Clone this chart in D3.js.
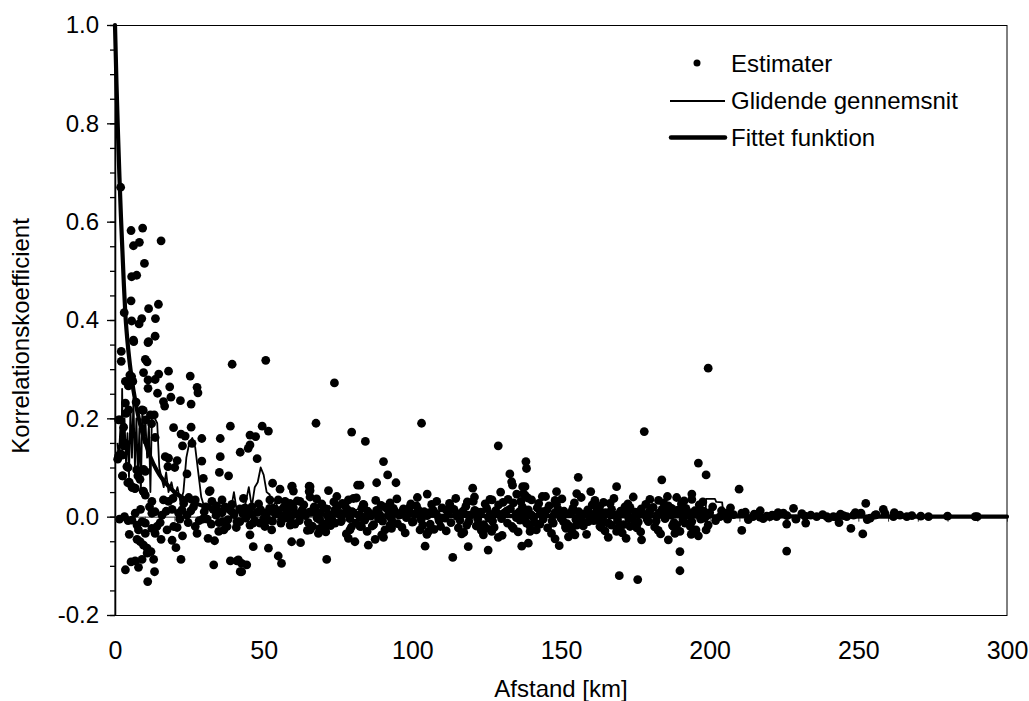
<!DOCTYPE html>
<html><head><meta charset="utf-8">
<script src="https://cdn.jsdelivr.net/npm/d3@7/dist/d3.min.js"></script>
<style>
html,body{margin:0;padding:0;background:#fff;}
svg text{font-family:"Liberation Sans",Arial,sans-serif;fill:#000;}
</style></head>
<body><svg id="chart" width="1029" height="701"></svg>
<script>
// ---- data ----
const xTickValues = [0,50,100,150,200,250,300];
const yTickValues = [-0.2,0.0,0.2,0.4,0.6,0.8,1.0];
const seriesNames = ["Estimater","Glidende gennemsnit","Fittet funktion"];
const xTitle = "Afstand [km]";
const yTitle = "Korrelationskoefficient";

// Estimater: [afstand km, korrelation]
const estimater = [
[1.9,0.67],[5.4,0.582],[9.3,0.587],[6.2,0.551],[8.2,0.558],[15.5,0.561],
[9.9,0.515],[5.6,0.488],[7.3,0.491],[5.4,0.439],[11.3,0.423],[14.6,0.432],[13.6,0.403],[9.0,0.403],[8.1,0.392],[5.6,0.398],[3.1,0.415],
[13.5,0.367],[6.3,0.356],[11.1,0.354],[6.2,0.359],[11.3,0.356],
[2.1,0.336],[2.1,0.316],[10.2,0.32],[10.8,0.315],[39.4,0.31],[50.7,0.318],
[9.6,0.293],[18.0,0.296],[14.7,0.29],[13.5,0.279],[11.1,0.278],[25.3,0.286],[3.5,0.275],[6.0,0.275],[5.0,0.288],[5.6,0.285],[73.8,0.272],
[11.1,0.261],[18.4,0.264],[27.6,0.263],[27.9,0.252],[14.3,0.251],[18.8,0.243],[22.0,0.236],[16.3,0.234],[16.7,0.225],[25.6,0.229],[7.1,0.233],[4.5,0.266],[3.5,0.231],
[1.7,0.197],[1.2,0.197],[2.9,0.182],[9.5,0.216],[10.3,0.197],[11.9,0.207],[13.2,0.207],[3.7,0.21],[4.6,0.217],[9.1,0.217],[12.3,0.189],
[19.7,0.181],[25.6,0.182],[22.2,0.168],[23.6,0.164],[29.2,0.159],[22.7,0.144],[25.9,0.149],[38.8,0.184],[35.4,0.159],[35.4,0.122],[42.1,0.131],[29.2,0.113],[20.9,0.114],[20.1,0.1],[16.9,0.122],[18.0,0.119],[17.8,0.102],[13.5,0.161],
[67.6,0.19],[103.1,0.19],[79.6,0.172],[84.2,0.153],[49.5,0.184],[51.6,0.174],[45.4,0.166],[47.3,0.163],[45.4,0.146],[44.8,0.139],[47.8,0.118],
[2.8,0.149],[3.5,0.149],[2.9,0.144],[1.8,0.128],[1.2,0.123],[2.4,0.125],[0.9,0.117],
[4.0,0.102],[4.4,0.1],[2.6,0.083],[2.5,0.083],[7.7,0.083],[9.6,0.096],[10.2,0.092],[7.3,0.095],[8.4,0.076],[35.1,0.09],[38.2,0.083],[24.2,0.087],[29.7,0.078],[4.8,0.07],[4.3,0.069],[5.8,0.059],[6.7,0.057],[5.7,0.061],[6.8,0.058],[9.5,0.052],[9.6,0.051],[10.2,0.044],[12.4,0.031],
[32.0,0.053],[31.7,0.051],[59.4,0.061],[65.6,0.061],[65.6,0.053],[71.8,0.053],[53,0.068],[55.5,0.056],[59.6,0.062],[60,0.052],[65.3,0.062],[65.3,0.051],[81.6,0.064],[74.6,0.041],[78.5,0.034],[80.2,0.037],[52.1,0.034],[54.9,0.034],[57.2,0.031],[58.9,0.027],[62.2,0.031],[43.2,0.037],
[16.3,0.034],[18,0.031],[19.5,0.037],[24.8,0.039],[27,0.034],[23.1,0.027],[32.6,0.031],[36,0.034],
[6.8,0.007],[5.7,-0.007],[4.4,-0.008],[9.1,-0.01],[10.2,-0.013],[12.4,0.007],[13.5,0.01],[15.8,0.003],[19.2,0.015],[21.4,0.007],[22.5,0.014],[24.2,0.003],
[7.4,-0.017],[7.9,-0.027],[4.8,-0.036],[10.2,-0.034],[12.4,-0.024],[14.1,-0.02],[15.2,-0.012],[17.5,-0.027],[19.7,-0.02],[20.9,-0.022],[13.5,-0.034],[15.5,-0.046],[7.4,-0.046],[8.5,-0.051],[9.6,-0.058],[10.8,-0.064],[19.2,-0.048],[22.7,-0.039],[20.5,-0.063],[12.1,-0.071],[10.8,-0.074],[13.0,-0.087],[5.4,-0.092],[6.8,-0.09],[9.1,-0.087],[7.9,-0.103],[3.5,-0.108],[13.3,-0.112],[11.0,-0.132],[22.2,-0.087],[27,-0.02],[27.6,-0.034],[29.5,-0.005],[31.3,-0.044],[33.5,-0.049],[34.9,-0.03],[36.6,-0.027],[37.7,-0.02],[33.2,-0.098],[38.8,-0.09],[41,-0.09],[42.1,-0.112],
[42,-0.01],[45.4,-0.017],[46.5,-0.013],[48.8,-0.013],[51.6,-0.007],[52.7,-0.027],[45.4,-0.037],[57.2,-0.003],[58.9,-0.017],[65.6,-0.027],[66.1,-0.02],[68.4,-0.034],[69,-0.024],[70.6,-0.017],[71.7,-0.01],[74,-0.013],[76.2,-0.007],[78.5,-0.044],[80.7,-0.051],[79,-0.027],[82.4,-0.02],[59.4,-0.051],[62.4,-0.053],[46.5,-0.061],[51.6,-0.064],[54.9,-0.08],[56,-0.095],[71.2,-0.087],[41.5,-0.088],[42.6,-0.095],[44.3,-0.098],[42.6,-0.112],[65.6,0.04],[67.3,0.018],[69.6,0.024],[74,0.014],[77.4,0.022],[79.7,0.01],
[90.3,0.112],[91.7,0.085],[88,0.069],[94.5,0.069],[82.4,0.064],[105,0.046],[120.3,0.058],[120.5,0.031],[126.1,0.035],[129.7,0.05],[132.8,0.087],[133.4,0.071],[133.7,0.064],[135.1,0.046],[137.3,0.047],[137.9,0.061],[138.2,0.112],[138.4,0.098],[83.7,0.024],[112.7,0.022],[99.2,0.02],[101.4,0.022],[93.6,0.017],[82.9,-0.02],[92.5,-0.017],[93,-0.024],[89.7,-0.037],[90.3,-0.042],[87.5,-0.046],[85.2,-0.058],[100.3,-0.01],[102.6,-0.027],[105.4,-0.03],[107.3,-0.026],[104.3,-0.06],[113.6,-0.083],[116.6,-0.035],[118.3,-0.017],[118.8,-0.061],[122.8,-0.02],[123.9,-0.037],[125.5,-0.068],[125,-0.024],[126.7,-0.03],[128.9,-0.042],[134,-0.024],[136.8,-0.06],[139,-0.054],[136.2,-0.007],[138.4,-0.013],[128.9,0.144],
[137.1,0.061],[137.9,0.044],[140.1,0.034],[143.7,0.041],[148.5,0.051],[148,0.033],[155.8,0.08],[155.3,0.047],[160,0.051],[164.3,0.029],[168.7,0.061],[178,0.173],[183.9,0.075],[182.8,0.033],[188.9,0.039],[171.5,0.02],[173.2,0.019],[149.4,-0.059],[148,-0.045],[152.5,-0.041],[154.7,-0.037],[165.9,-0.042],[171.9,-0.044],[177.1,-0.047],[169.6,-0.12],[175.8,-0.128],[183.5,-0.035],[186.1,-0.047],[190,-0.071],[190,-0.11],[142.9,-0.015],[147.4,-0.013],[139.6,-0.03],[168.7,-0.03],[173.2,-0.02],[151.7,-0.024],[153,-0.02],[156.4,-0.007],[159.2,-0.01],[162.6,0.02],[164.3,-0.012],[194,0.046],[194,0.035],[186.1,0.022],[187.2,0.017],[194.5,-0.027],[155.3,-0.017],[150.8,-0.01],[151.9,-0.02],[162,-0.007],[163.1,-0.02],[167,-0.017],[174.9,-0.013],[179.4,-0.01],[188.9,-0.017],[191.7,-0.013],[196.2,0.109],[198.8,0.085],[199.5,0.302],
[209.9,0.056],[228.2,0.017],[252.5,0.027],[258.4,0.015],[262.1,0.008],[250.9,0.007],[224.8,0.007],[210.8,0.007],[205.7,0.007],[196.8,0.015],[186.7,0.017],[190,0.015],[192.3,0.012],[187.8,-0.02],[190,-0.03],[195.4,-0.027],[196.2,-0.039],[198.8,-0.027],[210.8,-0.028],[225.9,-0.015],[225.9,-0.07],[232.3,-0.013],[243.5,-0.012],[247.5,-0.024],[251.5,-0.035],[254,-0.003],[255.6,0.003],[266.3,0],[273.6,0],[289.3,0],[220.3,0],[222.5,0],[236,0],[239.4,0],[241.6,0],[246.1,0],[203.5,0],[214.6,0],[216.9,-0.001],[219.2,0.001],[232.1,0.001],[242.7,-0.001],[248.4,0.003],[261.8,0],
[201,0.02],[202,-0.008],[204,0.012],[206,-0.005],[207,0.018],[208,0.004],[212,0.009],[213,-0.006],[215,0.005],[217,0.012],[218,-0.004],[221,0.003],[223,0.008],[226,0.002],[229,-0.005],[231,0.006],[234,0.003],[238,0.004],[240,-0.003],[244,0.005],[245,0.002],[249,0.008],[253,-0.006],[256,0.004],[259,0.006],[264,0.003],[268,0.002],[271,0.001],[280,0.001],[290,0],
[30,0.01],[31,-0.005],[33,0.015],[34,0.003],[35,-0.012],[36,0.008],[37,0.02],[38,-0.006],[39,0.012],[40,0.004],[41,-0.01],[42,0.016],[43,0.006],[44,-0.003],[45,0.011],[46,0.02],[47,-0.008],[48,0.009],[49,0.014],[50,-0.004],[51,0.007],[52,0.017],[53,-0.009],[54,0.005],[55,0.012],[56,-0.006],[57,0.018],
[25.5,0.012],[28.3,-0.008],[30.5,0.02],[32.4,-0.015],[34.2,0.022],[36.2,-0.01],[39.3,0.025],[40.8,-0.022],[43.7,0.018],[46.2,0.004],[48.3,0.026],[50.4,-0.02],[53.6,0.016],[55.8,-0.013],[57.8,0.004],[24.6,-0.012],[26.4,0.02],[21.8,-0.005],[17.2,0.011],[11.6,0.02],[8.6,0.015],[3.2,0.0],[1.5,-0.005],
[58,0.012],[59,-0.004],[60,0.018],[61,0.005],[62,-0.008],[63,0.014],[64,0.002],[65,-0.012],[66,0.01],[67,0.02],[68,-0.003],[69,0.008],[70,-0.015],[71,0.016],[72,0.004],[73,-0.006],[74,0.012],[75,0.022],[76,-0.01],[77,0.006],[78,0.015],[79,-0.004],[80,0.009],[81,-0.013],[82,0.003],[83,0.017],[84,-0.007],[85,0.011],[86,0.001],[87,-0.016],[88,0.013],[89,0.004],[90,-0.009],[91,0.019],[92,0.002],[93,-0.005],[94,0.012],[95,-0.014],[96,0.007],[97,0.016],[98,-0.002],[99,0.009],[100,-0.011],[101,0.005],[102,0.014],[103,-0.006],[104,0.01],[105,0.002],[106,-0.015],[107,0.013],[108,0.006],[109,-0.008],[110,0.018],[111,-0.003],[112,0.008],[113,-0.012],[114,0.015],[115,0.001],[116,-0.007],[117,0.011],[118,0.021],[119,-0.01],[120,0.004],[121,0.013],[122,-0.005],[123,0.009],[124,-0.016],[125,0.017],[126,0.003],[127,-0.009],[128,0.012],[129,0.024],[130,-0.004],[131,0.007],[132,-0.013],[133,0.016],[134,0.028],[135,-0.002],[136,0.01],[137,0.02],[138,-0.008],[139,0.014],[140,0.003],[141,-0.011],[142,0.018],[143,0.006],[144,-0.005],[145,0.012],[146,0.022],[147,-0.009],[148,0.008],[149,0.015],[150,-0.003],[151,0.011],[152,-0.014],[153,0.006],[154,0.017],[155,-0.006],[156,0.01],[157,0.002],[158,-0.012],[159,0.014],[160,0.005],[161,-0.008],[162,0.012],[163,0.021],[164,-0.004],[165,0.008],[166,-0.013],[167,0.015],[168,0.003],[169,-0.007],[170,0.011],[171,-0.016],[172,0.006],[173,0.014],[174,-0.002],[175,0.009],[176,-0.011],[177,0.016],[178,0.004],[179,-0.006],[180,0.013],[181,0.019],[182,-0.009],[183,0.007],[184,0.015],[185,-0.004],[186,0.01],[187,0.003],[188,-0.012],[189,0.013],[190,0.006],[191,-0.007],[192,0.017],[193,0.002],[194,-0.01],[195,0.012],[196,0.004],[197,-0.005],[198,0.011],[199,0.002],[200,0.008],
[60.5,-0.015],[63.5,0.024],[66.5,-0.02],[69.5,0.026],[72.5,-0.018],[76.5,0.027],[79.5,-0.021],[83.5,0.025],[86.5,-0.019],[89.5,0.023],[92.5,0.028],[96.5,-0.022],[99.5,0.026],[103.5,-0.017],[106.5,0.025],[109.5,-0.02],[112.5,0.027],[115.5,-0.023],[118.5,0.03],[121.5,-0.019],[124.5,0.026],[127.5,-0.022],[130.5,0.029],[133.5,-0.02],[136.5,0.031],[139.5,-0.018],[142.5,0.027],[145.5,-0.023],[148.5,0.025],[151.5,-0.021],[154.5,0.028],[157.5,-0.019],[160.5,0.024],[163.5,-0.022],[166.5,0.027],[169.5,-0.02],[172.5,0.026],[175.5,-0.023],[178.5,0.025],[181.5,-0.021],[184.5,0.028],[187.5,-0.018],[190.5,0.026],[193.5,-0.02],[196.5,0.024],[199.5,-0.017],
[61.3,0.032],[64.7,-0.028],[67.8,0.036],[70.9,-0.031],[73.6,0.03],[77.8,-0.035],[81.2,0.038],[84.8,-0.03],[87.7,0.033],[90.8,-0.027],[94.8,0.036],[97.6,-0.033],[101.7,0.039],[104.9,-0.036],[108.2,0.031],[111.4,-0.029],[114.6,0.037],[117.3,-0.032],[120.9,0.04],[123.2,-0.028],[126.8,0.034],[130.2,-0.038],[132.2,0.035],[135.6,-0.031],[138.8,0.038],[141.7,-0.027],[144.8,0.041],[146.8,-0.034],[150.3,0.036],[153.7,-0.03],[156.8,0.039],[158.6,-0.036],[161.4,0.033],[164.8,-0.029],[167.8,0.037],[170.6,-0.033],[174.3,0.04],[176.8,-0.031],[179.9,0.035],[182.7,-0.028],[185.8,0.041],[188.3,-0.034],[191.4,0.032],[193.8,-0.036],[197.7,0.03],
[62.7,0.004],[65.4,0.009],[68.8,-0.006],[71.6,0.001],[75.4,0.005],[78.7,0.011],[82.6,-0.002],[85.7,0.006],[88.6,-0.004],[92.2,0.009],[95.6,0.003],[98.7,0.014],[102.6,0.001],[105.7,0.008],[108.8,-0.002],[111.8,0.012],[115.1,0.006],[118.9,0.003],[121.8,0.009],[125.7,-0.003],[128.7,0.006],[131.7,0.011],[134.8,0.004],[137.7,0.009],[140.8,-0.002],[143.6,0.01],[147.7,0.004],[150.7,0.007],[153.8,0.012],[157.2,0.005],[160.8,-0.002],[163.8,0.008],[166.7,0.003],[169.8,0.006],[172.8,-0.004],[175.8,0.004],[179.6,0.009],[182.4,0.002],[185.2,0.006],[188.7,0.01],[191.7,0.004],[195.7,0.007],[198.3,-0.003]
];

// Glidende gennemsnit: [afstand km, korrelation]
const glidende = [
[0.8,0.15],[1.3,0.12],[1.8,0.18],[2.2,0.14],[2.4,0.26],[2.7,0.14],[3.2,0.2],[3.7,0.11],[4.2,0.17],[4.7,0.08],[5.2,0.22],[5.7,0.12],[6.2,0.24],[6.7,0.1],[7.2,0.2],[7.7,0.08],[8.2,0.18],[8.7,0.05],[9.2,0.22],[9.7,0.15],[10.2,0.2],[10.8,0.12],[11.4,0.19],[11.9,0.05],[12.4,0.2],[13.4,0.2],[14.2,0.19],[14.9,0.1],[15.6,0.08],[16.4,0.06],[17.2,0.09],[18,0.05],[19,0.07],[20,0.04],[21,0.06],[22,0.03],[23,0.05],[24,0.12],[25,0.15],[26,0.16],[27,0.14],[28,0.09],[29,0.04],[30,0.02],[31,0.01],[32,0.025],[33,0.01],[34,0.015],[35,0.005],[36,0.02],[37,0.01],[38,0.025],[39,0.015],[40,0.05],[41,0.01],[42,0.02],[43,0.01],[44,0.03],[45,0.06],[46,0.02],[47,0.06],[48,0.07],[49,0.1],[50,0.085],[51,0.05],[52,0.045],[53,0.02],[54,0.03],[55,0.015],[56,0.025],[57,0.01],
[58,0.02],[60,0.008],[62,0.015],[64,0.005],[66,0.018],[68,0.004],[70,0.012],[72,0.022],[74,0.006],[76,0.014],[78,0.003],[80,0.01],[82,0.016],[84,0.002],[86,0.012],[88,0.006],[90,0.015],[92,0.004],[94,0.011],[96,0.002],[98,0.009],[100,0.013],[102,0.004],[104,0.01],[106,0.001],[108,0.008],[110,0.012],[112,0.003],[114,0.009],[116,-0.002],[118,0.006],[120,0.011],[122,0.002],[124,0.008],[126,0.014],[128,0.004],[130,0.012],[132,0.02],[134,0.01],[136,0.016],[138,0.006],[140,0.012],[142,0.003],[144,0.008],[146,0.014],[148,0.005],[150,0.01],[152,0.002],[154,0.008],[156,0.012],[158,0.003],[160,0.007],[162,0.011],[164,0.001],[166,0.006],[168,-0.004],[170,-0.012],[172,-0.02],[173,-0.005],[174,0.004],[176,0.008],[178,0.01],[180,0.003],[182,0.009],[184,0.005],[186,0.002],[188,0.007],[190,0.004],[192,0.008],[194,0.003],[196,0.006],[198.6,0.004],[198.8,0.036],[201.8,0.036],[202.2,0.03],[204.2,0.029],[204.6,0.004],[206,0.003],[208,0.001],[210,0.002],[215,0.001],[220,0],[230,0.001],[240,0],[250,0.001],[260,0],[280,0],[300,0]
];

// Fittet funktion: [afstand km, korrelation]
const fittet = [
[0,1.0],[0.5,0.88],[1,0.78],[1.5,0.69],[2,0.61],[2.5,0.54],[3,0.47],[3.5,0.41],[4,0.37],[5,0.31],[6,0.265],[7,0.23],[8,0.2],[9,0.175],[10,0.155],[12,0.12],[14,0.095],[16,0.076],[18,0.062],[20,0.05],[24,0.035],[28,0.025],[32,0.018],[40,0.011],[50,0.007],[60,0.005],[80,0.003],[100,0.002],[150,0.001],[200,0.0005],[300,0]
];

// ---- chart ----
const svg = d3.select("#chart");
const L = 115, R = 1007, T = 25, B = 615;
const x = d3.scaleLinear().domain([0,300]).range([L,R]);
const y = d3.scaleLinear().domain([-0.2,1.0]).range([B,T]);
const FS = 24;

// frame
svg.append("rect").attr("x",L).attr("y",T+0.5).attr("width",R-L).attr("height",B-T)
  .attr("fill","none").attr("stroke","#000").attr("stroke-width",1);

// y axis minor ticks
const yMinor = d3.range(-0.2,1.0001,0.05).map(v=>+v.toFixed(2));
svg.append("g").attr("transform",`translate(${L},0)`)
  .call(d3.axisLeft(y).tickValues(yMinor).tickSize(5).tickSizeOuter(0).tickFormat(""))
  .call(g=>g.selectAll("line,path").attr("stroke","#000").attr("stroke-width",1.3));
// y axis major
svg.append("g").attr("transform",`translate(${L},0)`)
  .call(d3.axisLeft(y).tickValues(yTickValues).tickSize(8).tickSizeOuter(0).tickPadding(8)
    .tickFormat(d3.format(".1f")))
  .call(g=>g.selectAll("line,path").attr("stroke","#000").attr("stroke-width",1.3))
  .call(g=>g.selectAll("text").attr("font-size",FS).attr("font-family","Liberation Sans, Arial, sans-serif").text(d=>d3.format(".1f")(d).replace("−","-")));

// x axis at y=0 with minor ticks
svg.append("g").attr("transform",`translate(0,${y(0)})`)
  .call(d3.axisBottom(x).tickValues(d3.range(0,301,10)).tickSize(5).tickSizeOuter(0).tickFormat(""))
  .call(g=>g.selectAll("line,path").attr("stroke","#333").attr("stroke-width",1));

// x tick labels at bottom
svg.append("g").attr("transform",`translate(0,${B})`)
  .call(d3.axisBottom(x).tickValues(xTickValues).tickSize(0).tickPadding(26).tickFormat(d3.format("d")))
  .call(g=>g.select(".domain").remove())
  .call(g=>g.selectAll("text").attr("font-size",25).attr("font-family","Liberation Sans, Arial, sans-serif"));

// data
const plot = svg.append("g");
plot.selectAll("circle.est").data(estimater).join("circle")
  .attr("class","est").attr("cx",d=>x(d[0])).attr("cy",d=>y(d[1])).attr("r",4.4).attr("fill","#000");

plot.append("path").datum(glidende)
  .attr("d",d3.line().x(d=>x(d[0])).y(d=>y(d[1])))
  .attr("fill","none").attr("stroke","#000").attr("stroke-width",1.8).attr("stroke-linejoin","round");

plot.append("path").datum(fittet)
  .attr("d",d3.line().x(d=>x(d[0])).y(d=>y(d[1])).curve(d3.curveMonotoneX))
  .attr("fill","none").attr("stroke","#000").attr("stroke-width",4.2).attr("stroke-linecap","round");

// titles
svg.append("text").attr("x",(L+R)/2).attr("y",697).attr("text-anchor","middle")
  .attr("font-size",FS).text(xTitle);
svg.append("text").attr("transform",`translate(29,336) rotate(-90)`).attr("text-anchor","middle")
  .attr("font-size",FS).text(yTitle);

// legend
const lg = svg.append("g");
lg.append("circle").attr("cx",697).attr("cy",63).attr("r",3.5).attr("fill","#000");
lg.append("text").attr("x",731).attr("y",72).attr("font-size",FS).text(seriesNames[0]);
lg.append("line").attr("x1",670).attr("x2",725).attr("y1",101).attr("y2",101).attr("stroke","#000").attr("stroke-width",2);
lg.append("text").attr("x",731).attr("y",109).attr("font-size",FS).text(seriesNames[1]);
lg.append("line").attr("x1",671).attr("x2",725).attr("y1",137.5).attr("y2",137.5).attr("stroke","#000").attr("stroke-width",4.5).attr("stroke-linecap","round");
lg.append("text").attr("x",731).attr("y",146).attr("font-size",FS).text(seriesNames[2]);
</script></body></html>
